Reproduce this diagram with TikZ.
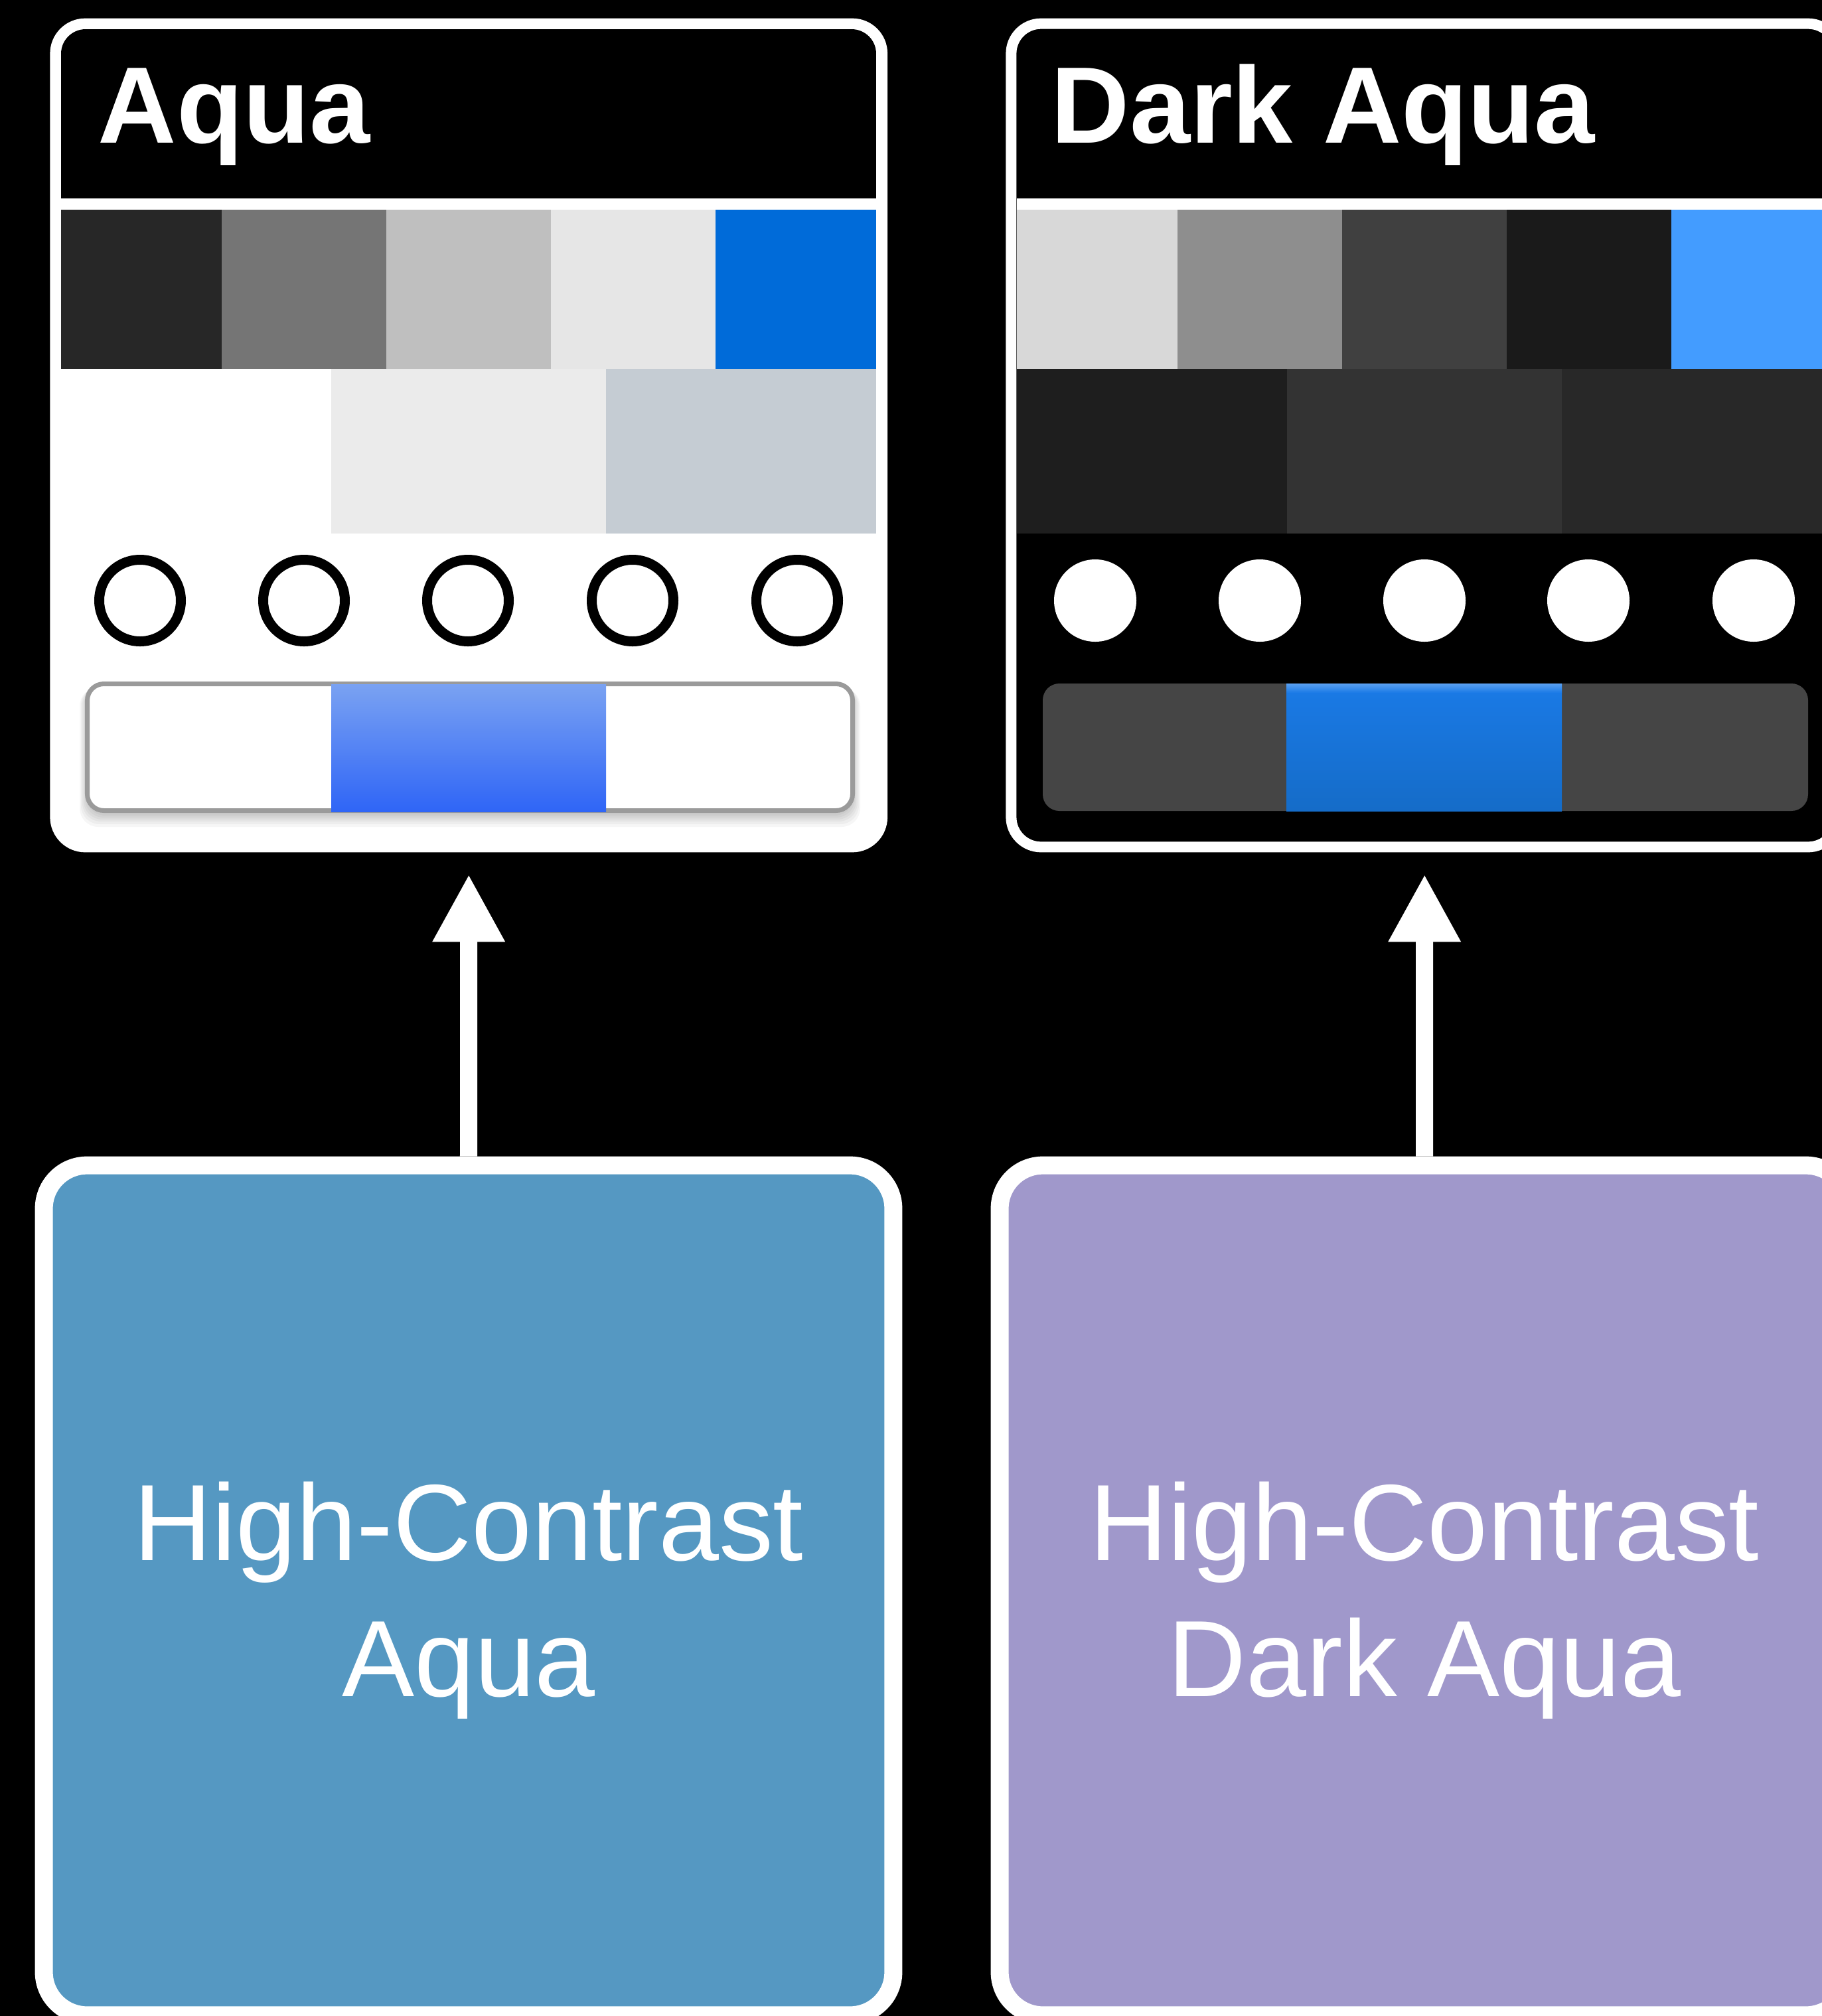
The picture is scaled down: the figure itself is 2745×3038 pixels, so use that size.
\documentclass[tikz,border=0pt]{standalone}
\usepackage{fontspec}
\setmainfont{Liberation Sans}
\usepackage{tikz}
\usetikzlibrary{calc,arrows.meta,positioning}
\definecolor{aqDark}{RGB}{39,39,39}
\definecolor{aqMid}{RGB}{117,117,117}
\definecolor{aqLight}{RGB}{191,191,191}
\definecolor{aqPale}{RGB}{230,230,230}
\definecolor{aqBlue}{RGB}{0,107,217}
\definecolor{aqRowB}{RGB}{235,235,235}
\definecolor{aqRowC}{RGB}{197,204,211}
\definecolor{dkLight}{RGB}{216,216,216}
\definecolor{dkMid}{RGB}{142,142,142}
\definecolor{dkDeep}{RGB}{64,64,64}
\definecolor{dkBlack}{RGB}{26,26,26}
\definecolor{dkBlue}{RGB}{67,156,255}
\definecolor{dkRowA}{RGB}{30,30,30}
\definecolor{dkRowB}{RGB}{51,51,51}
\definecolor{dkRowC}{RGB}{40,40,40}
\definecolor{hcBlue}{RGB}{85,152,194}
\definecolor{hcPurple}{RGB}{160,152,203}
\definecolor{segGray}{RGB}{154,154,154}
\definecolor{segDark}{RGB}{69,69,69}
\definecolor{aqSegTop}{RGB}{122,162,242}
\definecolor{aqSegBot}{RGB}{47,101,246}
\definecolor{dkSegTop}{RGB}{26,122,230}
\definecolor{dkSegBot}{RGB}{21,108,200}
\definecolor{dkSegHi}{RGB}{90,160,240}

\begin{document}
\begin{tikzpicture}[x=0.01cm,y=-0.01cm,
    panel/.style={draw=white, line width=0.16cm, rounded corners=0.45cm, minimum width=12.45cm, minimum height=12.40cm, inner sep=0pt},
    hcbox/.style={draw=white, line width=0.27cm, rounded corners=0.65cm, minimum width=12.79cm, minimum height=12.80cm, inner sep=0pt},
    headtitle/.style={text=white, font=\bfseries\fontsize{46.6}{50}\selectfont, anchor=base west, inner sep=0pt},
    hclabel/.style={text=white, align=center, font=\fontsize{46.5}{58.3}\selectfont, inner sep=0pt},
    flow/.style={white, line width=0.26cm, -{Triangle[length=1.02cm, width=1.02cm]}, shorten >=0.33cm},
    ring/.style={draw=black, line width=0.15cm},
    knob/.style={fill=white},
    softshade/.style={black, opacity=0.035, rounded corners=0.28cm}]
    \fill[black] (0,0) rectangle (2745,3038);
    \useasboundingbox (0,0) rectangle (2745,3038);
    \begin{scope}[shift={(0,0)}]
        \node[panel, fill=white] (aqua) at (706.25,656) {};
        \begin{scope}
            \clip[rounded corners=0.37cm] (92,44) rectangle (1320,1268);
            \fill[black] (92,44) rectangle (1320,299);
            \fill[aqDark] (92,316) rectangle (334,556);
            \fill[aqMid] (334,316) rectangle (582,556);
            \fill[aqLight] (582,316) rectangle (830,556);
            \fill[aqPale] (830,316) rectangle (1078,556);
            \fill[aqBlue] (1078,316) rectangle (1320,556);
            \fill[white] (92,556) rectangle (499,804);
            \fill[aqRowB] (499,556) rectangle (913,804);
            \fill[aqRowC] (913,556) rectangle (1320,804);
        \end{scope}
        \node[headtitle] (aquaTitle) at (147,215) {Aqua};
        \draw[ring] (211,905) circle (61.5);
        \draw[ring] (458,905) circle (61.5);
        \draw[ring] (705,905) circle (61.5);
        \draw[ring] (953,905) circle (61.5);
        \draw[ring] (1201,905) circle (61.5);
        \fill[softshade] (120,1036) rectangle (1296,1246);
        \fill[softshade] (122,1035) rectangle (1294,1242);
        \fill[softshade] (124,1034) rectangle (1292,1238);
        \fill[softshade] (126,1033) rectangle (1290,1235);
        \fill[softshade] (128,1032) rectangle (1288,1232);
        \fill[softshade] (130,1031) rectangle (1286,1229);
        \draw[segGray, line width=0.07cm, fill=white, rounded corners=0.25cm] (131.5,1030.5) rectangle (1284.5,1221.5);
        \shade[top color=aqSegTop, bottom color=aqSegBot] (499,1031) rectangle (913,1223);
    \end{scope}
    \begin{scope}[shift={(1440,0)}]
        \node[panel, fill=black] (dark) at (706.25,656) {};
        \begin{scope}
            \clip[rounded corners=0.37cm] (92,44) rectangle (1320,1268);
            \fill[white] (92,299) rectangle (1320,316);
            \fill[dkLight] (92,316) rectangle (334,556);
            \fill[dkMid] (334,316) rectangle (582,556);
            \fill[dkDeep] (582,316) rectangle (830,556);
            \fill[dkBlack] (830,316) rectangle (1078,556);
            \fill[dkBlue] (1078,316) rectangle (1320,556);
            \fill[dkRowA] (92,556) rectangle (499,804);
            \fill[dkRowB] (499,556) rectangle (913,804);
            \fill[dkRowC] (913,556) rectangle (1320,804);
        \end{scope}
        \node[headtitle] (darkTitle) at (143,215) {Dark Aqua};
        \fill[knob] (210,905) circle (62);
        \fill[knob] (458,905) circle (62);
        \fill[knob] (706,905) circle (62);
        \fill[knob] (953,905) circle (62);
        \fill[knob] (1202,905) circle (62);
        \fill[segDark, rounded corners=0.25cm] (131,1030) rectangle (1284,1222);
        \shade[top color=dkSegTop, bottom color=dkSegBot] (498,1031) rectangle (913,1222);
        \shade[top color=dkSegHi, bottom color=dkSegTop] (498,1030) rectangle (913,1044);
    \end{scope}
    \node[hcbox, fill=hcBlue] (hcAqua) at (706,2396.5) {};
    \node[hclabel] (hcAquaText) at ($(hcAqua.center)+(0,15)$) {High-Contrast\\Aqua};
    \node[hcbox, fill=hcPurple] (hcDark) at (2146,2396.5) {};
    \node[hclabel] (hcDarkText) at ($(hcDark.center)+(0,15)$) {High-Contrast\\Dark Aqua};
    \draw[flow] (hcAqua.north) -- (aqua.south);
    \draw[flow] (hcDark.north) -- (dark.south);
\end{tikzpicture}
\end{document}
